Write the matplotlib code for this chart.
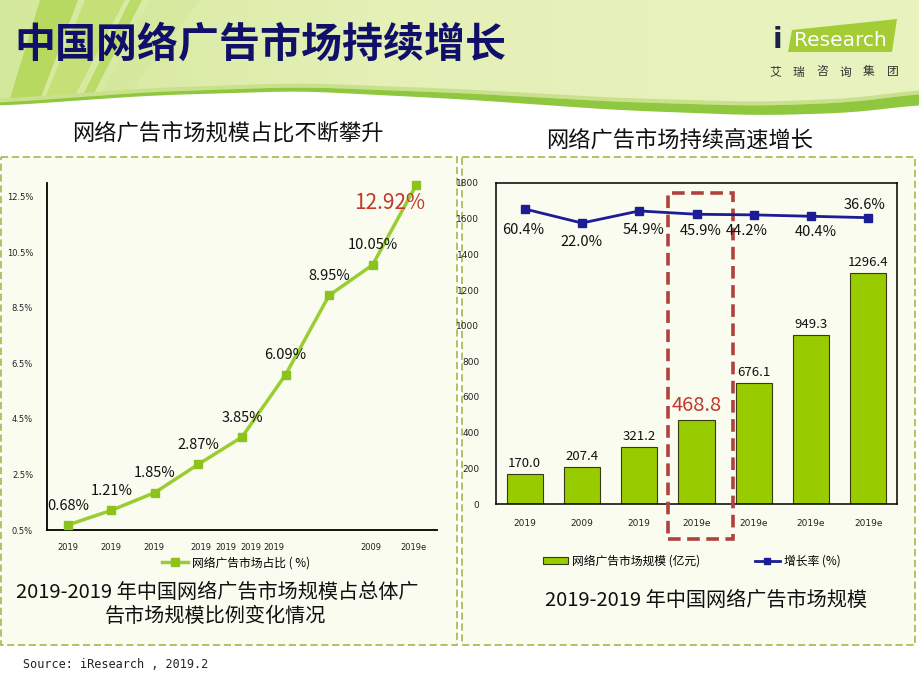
import numpy as np
import matplotlib
matplotlib.use('Agg')
import matplotlib.pyplot as plt
from matplotlib.patches import Rectangle, Polygon, Patch
from matplotlib.lines import Line2D

plt.rcParams['font.family'] = ['Noto Sans CJK SC', 'DejaVu Sans']

# ---------------- data ----------------
share_years = ['2019', '2019', '2019', '2019', '2019', '2019', '2019', '2009', '2019e']
share_tick_pos = [0, 0.98, 1.97, 3.05, 3.62, 4.2, 4.73, 6.97, 7.93]
share_values = [0.68, 1.21, 1.85, 2.87, 3.85, 6.09, 8.95, 10.05, 12.92]
share_yticks = [0.5, 2.5, 4.5, 6.5, 8.5, 10.5, 12.5]

market_years = ['2019', '2009', '2019', '2019e', '2019e', '2019e', '2019e']
market_size = [170.0, 207.4, 321.2, 468.8, 676.1, 949.3, 1296.4]
growth_rate = [60.4, 22.0, 54.9, 45.9, 44.2, 40.4, 36.6]
size_yticks = list(range(0, 1801, 200))

# label offsets (points) for growth labels
growth_dx = [-1, 0, 3, 3, -5, 3.5, -3]
growth_dy = [-15, -14, -14, -12, -11.5, -11, 9]

W, H = 920, 690
fig = plt.figure(figsize=(9.2, 6.9), dpi=100)
fig.patch.set_facecolor('white')

bg = fig.add_axes([0, 0, 1, 1])
bg.set_xlim(0, W)
bg.set_ylim(H, 0)
bg.axis('off')

# ---- banner ----
grad = np.zeros((10, 200, 3))
c_left = np.array([212, 232, 155]) / 255
c_mid = np.array([228, 240, 182]) / 255
c_right = np.array([233, 243, 192]) / 255
for j in range(200):
    t = j / 199
    if t < 0.4:
        c = c_left + (c_mid - c_left) * (t / 0.4)
    else:
        c = c_mid + (c_right - c_mid) * ((t - 0.4) / 0.6)
    grad[:, j, :] = c
bg.imshow(grad, extent=(0, W, 125, 0), aspect='auto', zorder=0)

# stripes on the left
bg.add_patch(Polygon([(40, 0), (78, 0), (38, 105), (8, 105)], closed=True, fc='#add44c', ec='none', alpha=0.75, zorder=1))
bg.add_patch(Polygon([(85, 0), (125, 0), (70, 105), (42, 105)], closed=True, fc='#c0de6c', ec='none', alpha=0.8, zorder=1))
bg.add_patch(Polygon([(130, 0), (142, 0), (88, 105), (78, 105)], closed=True, fc='#b2d655', ec='none', alpha=0.75, zorder=1))
bg.add_patch(Polygon([(150, 0), (200, 0), (120, 105), (95, 105)], closed=True, fc='#d2e89a', ec='none', alpha=0.55, zorder=1))

# wave
cx = [0, 150, 300, 460, 620, 760, 860, 920]
cy = [104, 93, 88, 94, 103, 107, 103, 94]
xs = np.linspace(0, W, 300)
ys = np.interp(xs, cx, cy)
k = np.ones(25) / 25
ys_s = np.convolve(np.pad(ys, 12, mode='edge'), k, mode='valid')
thick = np.interp(xs, [0, 300, 600, 920], [2, 3, 7, 10])
bg.add_patch(Polygon(list(zip(xs, ys_s - 5)) + list(zip(xs[::-1], (ys_s - 1)[::-1])),
                     closed=True, fc='#c9e18c', ec='none', zorder=2))
bg.add_patch(Polygon(list(zip(xs, ys_s)) + [(W, 140), (0, 140)], closed=True, fc='white', ec='none', zorder=2))
bg.add_patch(Polygon(list(zip(xs, ys_s - 1)) + list(zip(xs[::-1], (ys_s + thick)[::-1])),
                     closed=True, fc='#8fc73e', ec='none', zorder=3))
bg.add_patch(Polygon(list(zip(xs, ys_s + thick)) + [(W, 150), (0, 150)], closed=True, fc='white', ec='none', zorder=2.5))

# title
bg.text(14, 45, '中国网络广告市场持续增长', fontsize=29.5, fontweight='bold', color='#10106a',
        va='center', ha='left', zorder=5)

# logo
bg.add_patch(Polygon([(792, 30), (897, 19), (892, 52), (788, 52)], closed=True, fc='#a3cc35', ec='none', zorder=4))
bg.text(777, 40, 'i', fontsize=20, fontweight='bold', color='#1b1f4a', ha='center', va='center',
        family='DejaVu Sans', zorder=5)
bg.text(840, 40, 'Research', fontsize=14.5, color='white', ha='center', va='center',
        family='DejaVu Sans', zorder=5)
for kk, ch in enumerate('艾瑞咨询集团'):
    bg.text(775 + 23.5 * kk, 72, ch, fontsize=8.5, color='#333333', ha='center', va='center', zorder=5)

# panels
bg.add_patch(Rectangle((1, 157), 456, 488, fc='#fafcef', ec='#a8bf58', lw=1.3, ls=(0, (4, 2)), zorder=3))
bg.add_patch(Rectangle((462, 157), 453, 488, fc='#fafcef', ec='#a8bf58', lw=1.3, ls=(0, (4, 2)), zorder=3))

# section titles
bg.text(228, 133, '网络广告市场规模占比不断攀升', fontsize=16, color='#111111', ha='center', va='center', zorder=5)
bg.text(680, 140, '网络广告市场持续高速增长', fontsize=16, color='#111111', ha='center', va='center', zorder=5)

# captions
bg.text(217, 592, '2019-2019 年中国网络广告市场规模占总体广', fontsize=14.5, color='#111111', ha='center', va='center', zorder=5)
bg.text(215, 616, '告市场规模比例变化情况', fontsize=14.5, color='#111111', ha='center', va='center', zorder=5)
bg.text(706, 600, '2019-2019 年中国网络广告市场规模', fontsize=14.5, color='#111111', ha='center', va='center', zorder=5)

# source
bg.text(23, 665, 'Source: iResearch , 2019.2', fontsize=8.5, family='DejaVu Sans Mono', color='#222222',
        ha='left', va='center', zorder=5)

# ---------------- left chart ----------------
ax1 = fig.add_axes([47 / W, 1 - 530 / H, 390 / W, 347 / H])
ax1.patch.set_alpha(0)
x1 = np.arange(len(share_values))
line1, = ax1.plot(x1, share_values, color='#9acd32', lw=2.5, marker='s', ms=6,
                  mfc='#8cc21c', mec='#8cc21c', clip_on=False, zorder=3)
ax1.set_xlim(-0.48, 8.48)
ax1.set_ylim(0.5, 13.0)
ax1.set_yticks(share_yticks)
ax1.set_yticklabels([f'{v}%' for v in share_yticks])
ax1.set_xticks(share_tick_pos)
ax1.set_xticklabels(share_years)
for s in ['top', 'right']:
    ax1.spines[s].set_visible(False)
for s in ['left', 'bottom']:
    ax1.spines[s].set_color('black')
    ax1.spines[s].set_linewidth(1.3)
ax1.tick_params(axis='both', length=0, labelsize=6, colors='#222222')
ax1.tick_params(axis='x', pad=9)
ax1.tick_params(axis='y', pad=10)
for lab in ax1.get_xticklabels() + ax1.get_yticklabels():
    lab.set_family('DejaVu Sans')

for i, v in enumerate(share_values):
    if i < len(share_values) - 1:
        ax1.annotate(f'{v:.2f}%', (x1[i], v), xytext=(0, 14), textcoords='offset points',
                     ha='center', va='center', fontsize=10.5, color='#111111')
    else:
        ax1.annotate(f'{v:.2f}%', (x1[i], v), xytext=(-19, -13), textcoords='offset points',
                     ha='center', va='center', fontsize=15, color='#c0392b')

leg1 = fig.legend(handles=[Line2D([0], [0], color='#9acd32', lw=2.5, marker='s', ms=6,
                                  mfc='#8cc21c', mec='#8cc21c')],
                  labels=['网络广告市场占比 ( %)'], loc='center',
                  bbox_to_anchor=(236 / W, 1 - 563 / H), bbox_transform=fig.transFigure,
                  frameon=False, fontsize=8.5, handlelength=2.2, handletextpad=0.3, borderpad=0)

# ---------------- right chart ----------------
ax2 = fig.add_axes([496 / W, 1 - 504 / H, 401 / W, 321 / H])
ax2.patch.set_alpha(0)
x2 = np.arange(len(market_size))
ax2.bar(x2, market_size, width=0.63, color='#99cc00', edgecolor='#3a3a10', lw=0.8, zorder=2)
ax2.set_xlim(-0.5, 6.5)
ax2.set_ylim(0, 1800)
ax2.set_yticks(size_yticks)
ax2.set_xticks(x2)
ax2.set_xticklabels(market_years)
for s in ax2.spines.values():
    s.set_color('black')
    s.set_linewidth(1.1)
ax2.tick_params(axis='both', length=0, labelsize=6.5, colors='#222222')
ax2.tick_params(axis='x', pad=11)
ax2.tick_params(axis='y', pad=12)
for lab in ax2.get_xticklabels() + ax2.get_yticklabels():
    lab.set_family('DejaVu Sans')

for i, v in enumerate(market_size):
    if i == 3:
        ax2.annotate(f'{v:.1f}', (x2[i], v), xytext=(0, 3), textcoords='offset points',
                     ha='center', va='bottom', fontsize=14.5, color='#c0392b', zorder=6)
    else:
        ax2.annotate(f'{v:.1f}', (x2[i], v), xytext=(0, 3), textcoords='offset points',
                     ha='center', va='bottom', fontsize=9.5, color='#111111', zorder=6)

ax3 = ax2.twinx()
ax3.set_ylim(-743, 131)
ax3.set_axis_off()
ax3.plot(x2, growth_rate, color='#1c1c96', lw=2, marker='s', ms=5.5, mfc='#1c1c96', mec='#1c1c96', zorder=4)
for i, v in enumerate(growth_rate):
    ax3.annotate(f'{v:.1f}%', (x2[i], v), xytext=(growth_dx[i], growth_dy[i]), textcoords='offset points',
                 ha='center', va='center', fontsize=10.5, color='#111111')

# highlight box around the 4th category
ax2.add_patch(Rectangle((2.5, -197), 1.14, 1941, fill=False, ec='#b0413e', lw=2.6,
                        ls=(0, (3.5, 1.8)), clip_on=False, zorder=7))

leg2 = fig.legend(handles=[Patch(fc='#99cc00', ec='#3a3a10', lw=0.8),
                           Line2D([0], [0], color='#1c1c96', lw=2, marker='s', ms=5, mfc='#1c1c96')],
                  labels=['网络广告市场规模 (亿元)', '增长率 (%)'], loc='center', ncol=2,
                  bbox_to_anchor=(692 / W, 1 - 561 / H), bbox_transform=fig.transFigure,
                  frameon=False, fontsize=8.5, handlelength=2.1, handleheight=0.5,
                  handletextpad=0.35, columnspacing=4.6, borderpad=0)

fig.savefig('out.png', dpi=100)
